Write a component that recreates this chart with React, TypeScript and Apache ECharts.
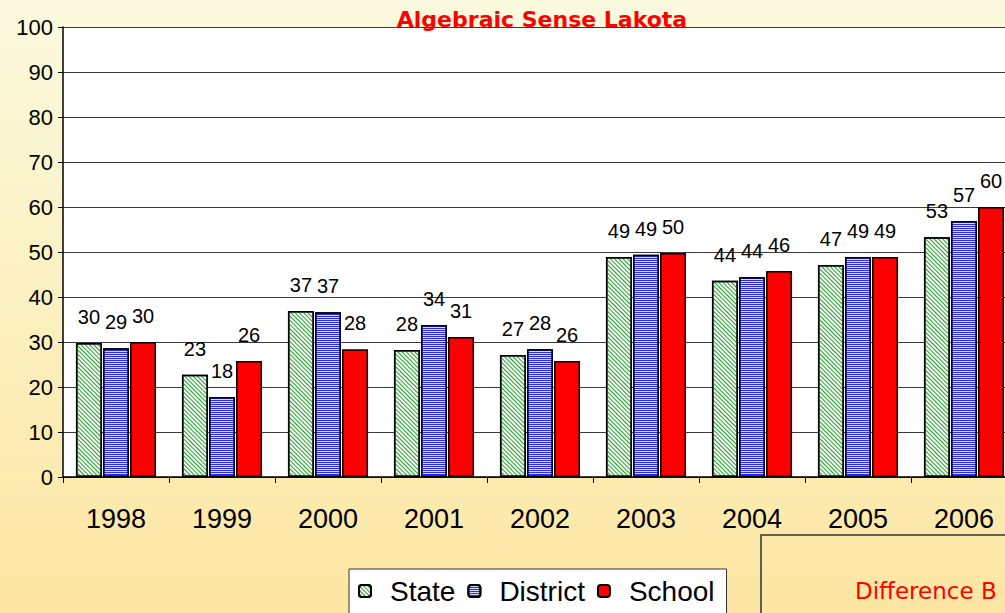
import React, { useEffect, useRef } from "react";
import * as echarts from "echarts";

const years = ["1998", "1999", "2000", "2001", "2002", "2003", "2004", "2005", "2006"];
const stateVals = [29.8, 22.7, 36.9, 28.2, 27.1, 48.9, 43.6, 47.1, 53.3];
const districtVals = [28.6, 17.8, 36.6, 33.8, 28.4, 49.4, 44.4, 48.9, 56.9];
const schoolVals = [30, 25.8, 28.4, 31.1, 25.8, 49.8, 45.8, 48.9, 60];
const yTicks = { min: 0, max: 100, interval: 10 };

const labelFont = "'Liberation Sans', Arial, sans-serif";
const comicFont = "'DejaVu Sans', 'Noto Sans', sans-serif";

export default function App() {
  const ref = useRef<HTMLDivElement>(null);
  useEffect(() => {
    if (!ref.current) return;
    const chart = echarts.init(ref.current, undefined, { renderer: "svg" });
    const label = {
      show: true,
      position: "top",
      distance: 16,
      fontSize: 20,
      fontFamily: labelFont,
      color: "#000",
      formatter: (p: any) => String(Math.round(p.value)),
    };
    const border = { borderColor: "#000", borderWidth: 1.5 };
    chart.setOption({
      animation: false,
      backgroundColor: new echarts.graphic.LinearGradient(0, 0, 0, 1, [
        { offset: 0, color: "#FAFADE" },
        { offset: 1, color: "#FDE6A2" },
      ]),
      title: {
        text: "Algebraic Sense Lakota",
        left: 537,
        textAlign: "center",
        top: 3,
        textStyle: { color: "#FF0000", fontSize: 22, fontWeight: "bold", fontFamily: comicFont },
      },
      legend: {
        left: 349,
        top: 569,
        backgroundColor: "#FFFFFF",
        borderColor: "#333",
        borderWidth: 1,
        padding: [8, 12, 30, 9],
        itemGap: 12,
        itemWidth: 12,
        itemHeight: 12,
        textStyle: { fontSize: 28, fontFamily: labelFont, color: "#000", padding: [0, 0, 0, 14] },
        data: ["State", "District", "School"],
      },
      grid: {
        left: 63,
        top: 27,
        width: 954,
        height: 450,
        show: true,
        backgroundColor: "#FFFFFF",
        borderWidth: 0,
        outerBoundsMode: "none",
        containLabel: false,
      },
      xAxis: {
        type: "category",
        data: years,
        axisLine: { lineStyle: { color: "#000", width: 1.5 } },
        axisTick: { show: true, length: 6, lineStyle: { color: "#000" } },
        axisLabel: { fontSize: 27, fontFamily: labelFont, color: "#000", margin: 28 },
      },
      yAxis: {
        type: "value",
        min: yTicks.min,
        max: yTicks.max,
        interval: yTicks.interval,
        axisLine: { show: true, lineStyle: { color: "#000", width: 1.5 } },
        axisTick: { show: true, length: 5, lineStyle: { color: "#000" } },
        axisLabel: { fontSize: 22, fontFamily: labelFont, color: "#000", margin: 10 },
        splitLine: { lineStyle: { color: "#3a3a3a", width: 1 } },
      },
      series: [
        {
          name: "State",
          type: "bar",
          data: stateVals,
          barWidth: 26,
          barGap: "4%",
          label,
          itemStyle: {
            color: "#F2FAEE",
            ...border,
            decal: {
              symbol: "rect",
              color: "#2F9A40",
              dashArrayX: [1, 0],
              dashArrayY: [1, 1.5],
              rotation: Math.PI / 4,
              symbolSize: 1,
            },
          },
        },
        {
          name: "District",
          type: "bar",
          data: districtVals,
          barWidth: 26,
          barGap: "4%",
          label,
          itemStyle: {
            color: "#DCDCFF",
            ...border,
            decal: {
              symbol: "rect",
              color: "#2A2AEE",
              dashArrayX: [1, 0],
              dashArrayY: [1, 1],
              rotation: 0,
              symbolSize: 1,
            },
          },
        },
        {
          name: "School",
          type: "bar",
          data: schoolVals,
          barWidth: 26,
          barGap: "4%",
          label,
          itemStyle: { color: "#FF0000", ...border },
        },
      ],
      graphic: [
        {
          type: "rect",
          shape: { x: 761, y: 535, width: 320, height: 120 },
          style: { fill: "none", stroke: "#333", lineWidth: 1.5 },
          z: 10,
        },
        {
          type: "text",
          x: 855,
          y: 579,
          style: {
            text: "Difference B",
            fill: "#FF0000",
            fontSize: 23,
            fontFamily: comicFont,
          },
          z: 10,
        },
      ],
    });
    return () => chart.dispose();
  }, []);
  return (
    <div
      ref={ref}
      style={{ position: "fixed", left: 0, top: 0, width: 1005, height: 613 }}
    />
  );
}
